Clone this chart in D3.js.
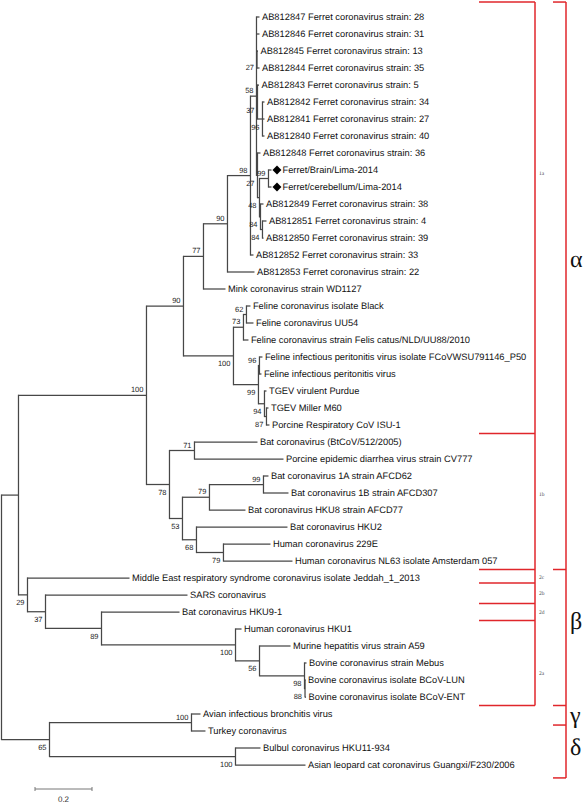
<!DOCTYPE html>
<html><head><meta charset="utf-8">
<script src="https://cdn.jsdelivr.net/npm/d3@7"></script>
<style>body{margin:0;background:#fff}svg{display:block}text{text-rendering:geometricPrecision}</style>
</head><body>
<svg id="chart" width="585" height="804"></svg>
<script>
// ---- data: branch table [node, parent, branch length (subst./site), bootstrap] ----
const branches = [
  ["root", "", 0, null],
  ["ab", "root", 0.0596, null],
  ["alpha", "ab", 0.4491, 100],
  ["a90", "alpha", 0.1298, 90],
  ["a77", "a90", 0.0702, 77],
  ["a90b", "a77", 0.0842, 90],
  ["a98", "a90b", 0.0807, 98],
  ["f58", "a98", 0.0211, 58],
  ["AB812847 Ferret coronavirus strain: 28", "f58", 0.0105, null],
  ["AB812846 Ferret coronavirus strain: 31", "f58", 0.0105, null],
  ["f27a", "f58", 0.0018, 27],
  ["AB812845 Ferret coronavirus strain: 13", "f27a", 0.0035, null],
  ["AB812844 Ferret coronavirus strain: 35", "f27a", 0.0088, null],
  ["f37", "f58", 0.0035, 37],
  ["AB812843 Ferret coronavirus strain: 5", "f37", 0.0053, null],
  ["f96", "f37", 0.0175, 96],
  ["AB812842 Ferret coronavirus strain: 34", "f96", 0.0070, null],
  ["AB812841 Ferret coronavirus strain: 27", "f96", 0.0070, null],
  ["AB812840 Ferret coronavirus strain: 40", "f96", 0.0070, null],
  ["f27b", "f58", 0.0035, 27],
  ["AB812848 Ferret coronavirus strain: 36", "f27b", 0.0105, null],
  ["f48", "f27b", 0.0070, 48],
  ["f99", "f48", 0.0316, 99],
  ["Ferret/Brain/Lima-2014", "f99", 0.0105, null],
  ["Ferret/cerebellum/Lima-2014", "f99", 0.0105, null],
  ["f84a", "f48", 0.0035, 84],
  ["AB812849 Ferret coronavirus strain: 38", "f84a", 0.0105, null],
  ["f84b", "f84a", 0.0070, 84],
  ["AB812851 Ferret coronavirus strain: 4", "f84b", 0.0140, null],
  ["AB812850 Ferret coronavirus strain: 39", "f84b", 0.0035, null],
  ["AB812852 Ferret coronavirus strain: 33", "a98", 0.0105, null],
  ["AB812853 Ferret coronavirus strain: 22", "a90b", 0.0947, null],
  ["Mink coronavirus strain WD1127", "a77", 0.0772, null],
  ["c100", "a90", 0.1754, 100],
  ["c73", "c100", 0.0351, 73],
  ["c62", "c73", 0.0105, 62],
  ["Feline coronavirus isolate Black", "c62", 0.0140, null],
  ["Feline coronavirus UU54", "c62", 0.0246, null],
  ["Feline coronavirus strain Felis catus/NLD/UU88/2010", "c73", 0.0175, null],
  ["c99", "c100", 0.0877, 99],
  ["c96", "c99", 0.0035, 96],
  ["Feline infectious peritonitis virus isolate FCoVWSU791146_P50", "c96", 0.0105, null],
  ["Feline infectious peritonitis virus", "c96", 0.0070, null],
  ["c94", "c99", 0.0211, 94],
  ["TGEV virulent Purdue", "c94", 0.0070, null],
  ["c87", "c94", 0.0070, 87],
  ["TGEV Miller M60", "c87", 0.0070, null],
  ["Porcine Respiratory CoV ISU-1", "c87", 0.0105, null],
  ["b78", "alpha", 0.0807, 78],
  ["b71", "b78", 0.0877, 71],
  ["Bat coronavirus (BtCoV/512/2005)", "b71", 0.2211, null],
  ["Porcine epidemic diarrhea virus strain CV777", "b71", 0.3123, null],
  ["b53", "b78", 0.0456, 53],
  ["b79", "b53", 0.0947, 79],
  ["b99", "b79", 0.1895, 99],
  ["Bat coronavirus 1A strain AFCD62", "b99", 0.0175, null],
  ["Bat coronavirus 1B strain AFCD307", "b99", 0.0877, null],
  ["Bat coronavirus HKU8 strain AFCD77", "b79", 0.1263, null],
  ["b68", "b53", 0.0491, 68],
  ["Bat coronavirus HKU2", "b68", 0.3193, null],
  ["b79b", "b68", 0.0947, 79],
  ["Human coronavirus 229E", "b79b", 0.1649, null],
  ["Human coronavirus NL63 isolate Amsterdam 057", "b79b", 0.2421, null],
  ["g29", "ab", 0.0316, 29],
  ["Middle East respiratory syndrome coronavirus isolate Jeddah_1_2013", "g29", 0.3579, null],
  ["g37", "g29", 0.0632, 37],
  ["SARS coronavirus", "g37", 0.4982, null],
  ["g89", "g37", 0.1965, 89],
  ["Bat coronavirus HKU9-1", "g89", 0.2737, null],
  ["g100", "g89", 0.4702, 100],
  ["Human coronavirus HKU1", "g100", 0.0211, null],
  ["g56", "g100", 0.0842, 56],
  ["Murine hepatitis virus strain A59", "g56", 0.1088, null],
  ["g98", "g56", 0.1579, 98],
  ["Bovine coronavirus strain Mebus", "g98", 0.0070, null],
  ["g88", "g98", 0.0018, 88],
  ["Bovine coronavirus isolate BCoV-LUN", "g88", 0.0018, null],
  ["Bovine coronavirus isolate BCoV-ENT", "g88", 0.0035, null],
  ["d65", "root", 0.1684, 65],
  ["d100a", "d65", 0.4982, 100],
  ["Avian infectious bronchitis virus", "d100a", 0.0316, null],
  ["Turkey coronavirus", "d100a", 0.0491, null],
  ["d100b", "d65", 0.6526, 100],
  ["Bulbul coronavirus HKU11-934", "d100b", 0.0877, null],
  ["Asian leopard cat coronavirus Guangxi/F230/2006", "d100b", 0.2456, null]
];
const markedLeaves = ["Ferret/Brain/Lima-2014", "Ferret/cerebellum/Lima-2014"];
const scaleBarValue = 0.2;
// clade brackets (edges / label rows in leaf-row units)
const subgroupNames = ["1a", "1b", "2c", "2b", "2d", "2a"];
const subgroupEdges = [-0.88, 24.5, 32.5, 33.3, 34.5, 35.5, 40.5];
const subgroupLabelRows = [9.2, 28.06, 32.94, 33.88, 35.0, 38.6];
const genusNames = ["α", "β", "γ", "δ"];
const genusEdges = [-0.88, 32.5, 40.5, 41.65, 44.76];
const genusLabelRows = [14.7, 36.0, 41.5, 43.4];

// ---- build ----
const svg = d3.select("#chart");
const root = d3.stratify().id(d => d[0]).parentId(d => d[1] || null)(branches);
root.each(n => { n.len = n.data[2]; n.sup = n.data[3]; });
root.eachBefore(n => { n.depth2 = n.parent ? n.parent.depth2 + n.len : 0; });
const leaves = root.leaves();
const x = d3.scaleLinear().domain([0, 1]).range([1.5, 286.5]);
const y = d3.scaleLinear().domain([0, leaves.length - 1]).range([17, 765]);
leaves.forEach((l, i) => { l.row = i; });
root.eachAfter(n => {
  if (n.children) n.row = (n.children[0].row + n.children[n.children.length - 1].row) / 2;
});
const lineColor = "#474747";
const g = svg.append("g");
// horizontal branches
g.selectAll("line.h").data(root.descendants().filter(n => n.parent)).join("line")
  .attr("x1", n => x(n.parent.depth2)).attr("x2", n => x(n.depth2))
  .attr("y1", n => y(n.row)).attr("y2", n => y(n.row))
  .attr("stroke", lineColor).attr("stroke-width", 1.25);
// vertical connectors
g.selectAll("line.v").data(root.descendants().filter(n => n.children)).join("line")
  .attr("x1", n => x(n.depth2)).attr("x2", n => x(n.depth2))
  .attr("y1", n => y(n.children[0].row) - 0.6)
  .attr("y2", n => y(n.children[n.children.length - 1].row) + 0.6)
  .attr("stroke", lineColor).attr("stroke-width", 1.25);
// text layer (grayscale antialiasing)
const tg = svg.append("g").style("opacity", 0.999);
const labelFont = "'Liberation Sans', Arial, sans-serif";
leaves.forEach(l => {
  const marked = markedLeaves.includes(l.id);
  const lx = x(l.depth2);
  if (marked) {
    g.append("path").attr("d", d3.symbol(d3.symbolSquare, 40)())
      .attr("transform", `translate(${lx + 5.5},${y(l.row)}) rotate(45)`)
      .attr("fill", "#000");
  }
  tg.append("text").attr("x", lx + (marked ? 11 : 2.5)).attr("y", y(l.row))
    .attr("dy", "0.35em").attr("font-family", labelFont).attr("font-size", 9.3)
    .attr("fill", "#111").text(l.id);
});
// bootstrap values
root.descendants().filter(n => n.children && n.sup != null).forEach(n => {
  const first = n.parent.children[0] === n;
  tg.append("text").attr("x", x(n.depth2) - 3)
    .attr("y", y(n.row) + (first ? -3 : 10.5))
    .attr("text-anchor", "end").attr("font-family", labelFont).attr("font-size", 7.5)
    .attr("fill", "#222").text(n.sup);
});
// scale bar
const sbx = 35, sby = 789;
const sbLen = x(scaleBarValue) - x(0);
const sb = svg.append("g").attr("stroke", "#777").attr("stroke-width", 1);
sb.append("line").attr("x1", sbx).attr("x2", sbx + sbLen).attr("y1", sby).attr("y2", sby);
sb.append("line").attr("x1", sbx).attr("x2", sbx).attr("y1", sby - 2).attr("y2", sby + 2);
sb.append("line").attr("x1", sbx + sbLen).attr("x2", sbx + sbLen).attr("y1", sby - 2).attr("y2", sby + 2);
tg.append("text").attr("x", sbx + sbLen / 2).attr("y", 802).attr("text-anchor", "middle")
  .attr("font-family", labelFont).attr("font-size", 8).attr("fill", "#333").text(scaleBarValue);
// red brackets
const red = "#e0262b";
const br = svg.append("g").attr("stroke", red).attr("stroke-width", 1.5).attr("fill", "none");
const yRow = r => y(r);
const inX = 535, inX0 = 479, outX = 566, outX0 = 553;
br.append("line").attr("x1", inX).attr("x2", inX)
  .attr("y1", yRow(subgroupEdges[0])).attr("y2", yRow(subgroupEdges[subgroupEdges.length - 1]));
subgroupEdges.forEach(e => br.append("line").attr("x1", inX0).attr("x2", inX)
  .attr("y1", yRow(e)).attr("y2", yRow(e)));
br.append("line").attr("x1", outX).attr("x2", outX)
  .attr("y1", yRow(genusEdges[0])).attr("y2", yRow(genusEdges[genusEdges.length - 1]));
genusEdges.forEach(e => br.append("line").attr("x1", outX0).attr("x2", outX)
  .attr("y1", yRow(e)).attr("y2", yRow(e)));
subgroupNames.forEach((s, i) => tg.append("text").attr("x", 539).attr("y", yRow(subgroupLabelRows[i]))
  .attr("dy", "0.35em").attr("font-family", "'Liberation Serif', serif").attr("font-size", 5.5)
  .attr("fill", "#555").text(s));
genusNames.forEach((s, i) => tg.append("text").attr("x", 570).attr("y", yRow(genusLabelRows[i]))
  .attr("font-family", "'Liberation Serif', 'DejaVu Serif', serif").attr("font-size", 24)
  .attr("fill", "#111").text(s));
</script>
</body></html>
